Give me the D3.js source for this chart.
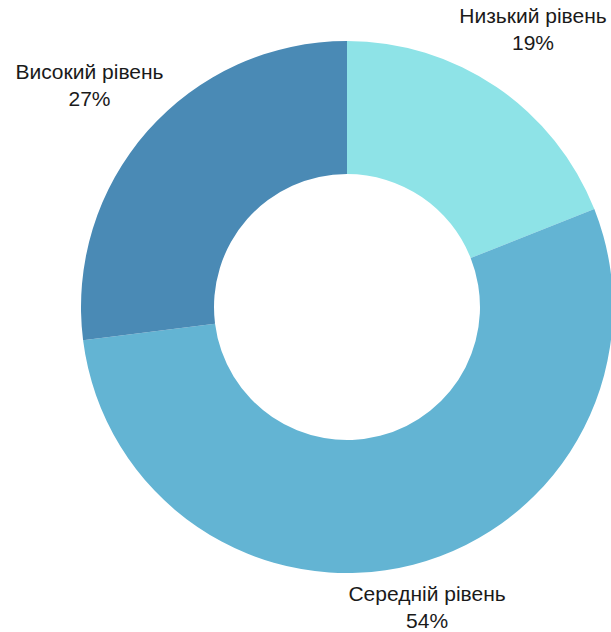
<!DOCTYPE html>
<html>
<head>
<meta charset="utf-8">
<script src="https://cdn.jsdelivr.net/npm/d3@7/dist/d3.min.js"></script>
<style>
  html, body { margin: 0; padding: 0; background: #fff; }
  svg { display: block; }
</style>
</head>
<body>
<script>
// Levels and their shares (percent), drawn clockwise from 12 o'clock
const categories = ["Низький рівень", "Середній рівень", "Високий рівень"];
const shares = [19, 54, 27];
const colors = ["#8ee3e7", "#63b4d3", "#4a8ab5"];

const width = 611, height = 632;
const cx = 347, cy = 307;
const outerR = 266, innerR = 133;
const labelR = 338;
const fontSize = 21;

const svg = d3.select("body").append("svg")
  .attr("width", width).attr("height", height);

const pie = d3.pie().sort(null).value(d => d.value);
const arcs = pie(categories.map((c, i) => ({ name: c, value: shares[i], color: colors[i] })));

const arc = d3.arc().innerRadius(innerR).outerRadius(outerR);
const labelArc = d3.arc().innerRadius(labelR).outerRadius(labelR);

const g = svg.append("g").attr("transform", `translate(${cx},${cy})`);

g.selectAll("path.slice")
  .data(arcs)
  .join("path")
  .attr("class", "slice")
  .attr("d", arc)
  .attr("fill", d => d.data.color);

const total = d3.sum(shares);
const fmt = d => Math.round(d.data.value / total * 100) + "%";

// baselines of the two lines, relative to the middle of the label block
const line1 = -6, line2 = 21;

const labels = g.selectAll("g.label")
  .data(arcs)
  .join("g")
  .attr("class", "label")
  .attr("transform", d => {
    let [x, y] = labelArc.centroid(d);
    x -= 4;
    y += 2;
    // keep the two-line label inside the canvas
    const maxY = height - cy - line2 - 4;
    y = Math.min(y, maxY);
    return `translate(${x},${y})`;
  });

labels.append("text")
  .attr("text-anchor", "middle")
  .attr("y", line1)
  .attr("font-family", "'Liberation Sans', Arial, sans-serif")
  .attr("font-size", fontSize)
  .attr("fill", "#1a1a1a")
  .text(d => d.data.name);

labels.append("text")
  .attr("text-anchor", "middle")
  .attr("y", line2)
  .attr("font-family", "'Liberation Sans', Arial, sans-serif")
  .attr("font-size", fontSize)
  .attr("fill", "#1a1a1a")
  .text(fmt);
</script>
</body>
</html>
